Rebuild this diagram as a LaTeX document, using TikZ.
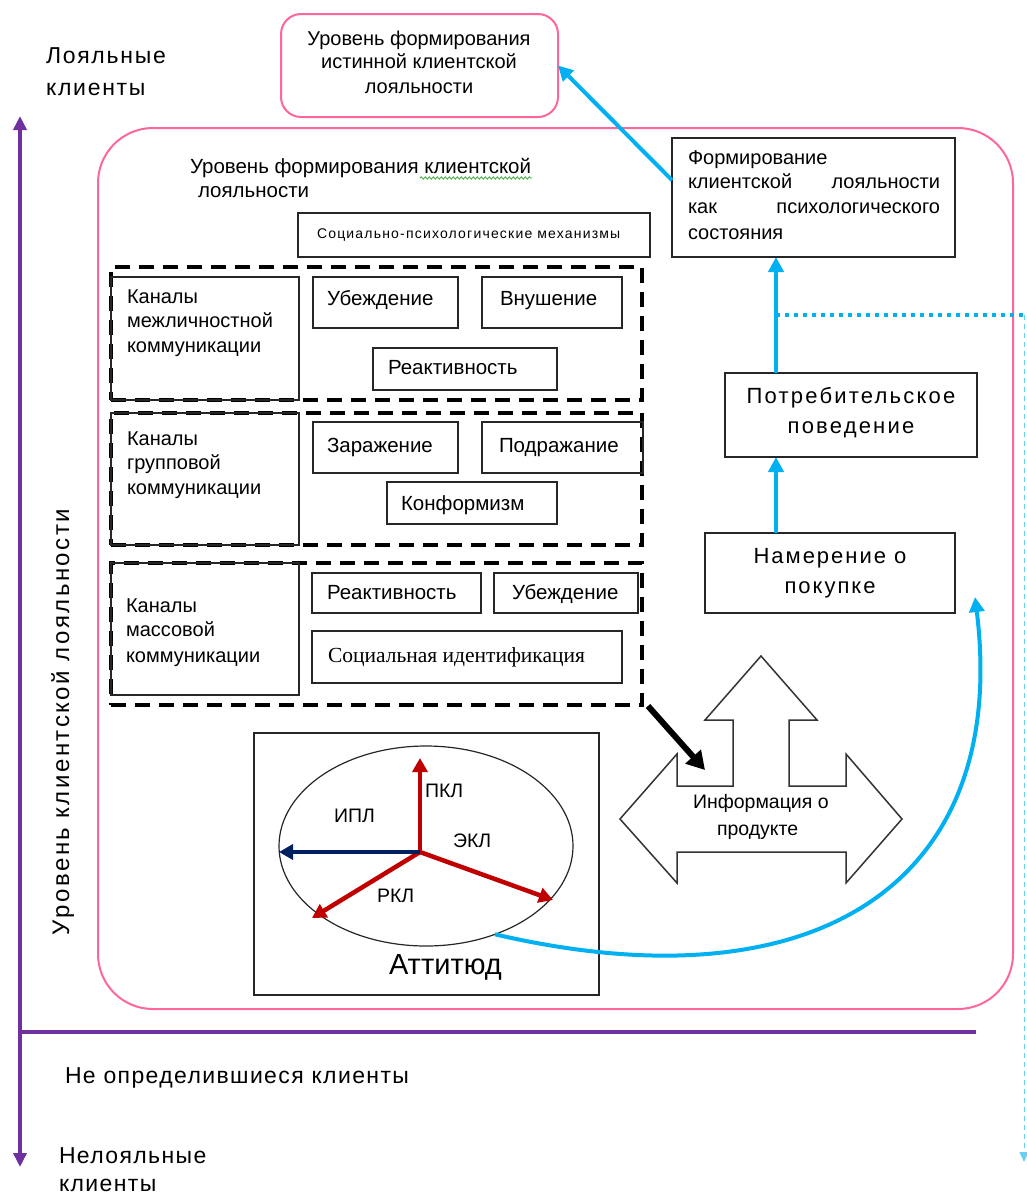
\documentclass[tikz,border=0pt]{standalone}
\usepackage{fontspec}
\setmainfont{Liberation Sans}
\newfontfamily\serifrm{Liberation Serif}
\usetikzlibrary{arrows.meta,decorations.pathmorphing,shapes.geometric}
\definecolor{pinkc}{RGB}{255,102,153}
\definecolor{bluec}{RGB}{0,176,240}
\definecolor{purpc}{RGB}{112,48,160}
\definecolor{redc}{RGB}{192,0,0}
\definecolor{navyc}{RGB}{0,32,96}
\definecolor{greenc}{RGB}{60,170,60}
\newcommand\fsz[1]{\fontsize{#1}{#1}\selectfont}
\newcommand\lsp[1]{\addfontfeature{LetterSpace=#1}}
\begin{document}
\begin{tikzpicture}[x=1pt,y=-1pt,
  every node/.style={inner sep=0pt,outer sep=0pt},
  rbox/.style={draw=black!85,line width=1.6pt,anchor=north west,rectangle},
  pinkbox/.style={draw=pinkc,line width=2pt,anchor=north west,rectangle},
  dbox/.style={draw=black,line width=3.5pt,dash pattern=on 15pt off 9pt,anchor=north west,rectangle},
  txt/.style={anchor=base west},
  ctxt/.style={anchor=base},
  blu/.style={draw=bluec,line width=4pt,-{Triangle[length=15pt,width=15pt]}},
  redar/.style={draw=redc,line width=4.5pt,-{Triangle[length=14pt,width=15pt]}},
  purp/.style={draw=purpc,line width=4pt}
]
\useasboundingbox (0,0) rectangle (1027,1195);

% axes
\coordinate (axTop) at (20,116);
\coordinate (axBot) at (20,1167);
\coordinate (hL) at (20,1032);
\coordinate (hR) at (976,1032);
\draw[purp,{Triangle[length=14pt,width=13pt]}-{Triangle[length=14pt,width=13pt]}] (axTop) -- (axBot);
\draw[purp] (hL) -- (hR);

\node[txt,font=\fsz{23}\lsp{7.5}] (loy1) at (46,63) {Лояльные};
\node[txt,font=\fsz{23}\lsp{7.5}] (loy2) at (46,95) {клиенты};
\node[anchor=base,rotate=90,font=\fsz{24}\lsp{10.5}] (vaxis) at (69,722) {Уровень клиентской лояльности};
\node[txt,font=\fsz{23}\lsp{6}] (undec) at (65,1083) {Не определившиеся клиенты};
\node[txt,font=\fsz{23}\lsp{6}] (dis1) at (59,1163) {Нелояльные};
\node[txt,font=\fsz{23}\lsp{6}] (dis2) at (59,1191) {клиенты};

% pink boxes
\node[pinkbox,rounded corners=20pt,minimum width=277pt,minimum height=103pt] (tp) at (281,14) {};
\node[ctxt,font=\fsz{20}] (tp1) at (419,45) {Уровень формирования};
\node[ctxt,font=\fsz{20}] (tp2) at (419,68) {истинной клиентской};
\node[ctxt,font=\fsz{20}] (tp3) at (419,93) {лояльности};

\node[pinkbox,rounded corners=55pt,minimum width=915pt,minimum height=881pt] (big) at (98,128) {};
\node[txt,font=\fsz{20.5}] (bg1) at (190,173) {Уровень формирования клиентской};
\node[txt,font=\fsz{20.5}] (bg2) at (198,197) {лояльности};
\draw[greenc,line width=0.8pt,decorate,decoration={snake,amplitude=1.2pt,segment length=4pt}] (420,178) -- (532,178);

% mechanisms header
\node[rbox,minimum width=352pt,minimum height=44pt] (mech) at (298,213) {};
\node[txt,font=\fsz{14}\lsp{8.5}] (mecht) at (317,238) {Социально-психологические механизмы};

% dashed groups
\node[dbox,minimum width=531pt,minimum height=133pt] (dash1) at (111,267) {};
\node[dbox,minimum width=531pt,minimum height=132pt] (dash2) at (111,413) {};
\node[dbox,minimum width=531pt,minimum height=142pt] (dash3) at (111,563) {};

% channel boxes
\node[rbox,minimum width=188pt,minimum height=123pt] (ch1) at (111,277) {};
\node[txt,font=\fsz{20}] (ch1a) at (127,303) {Каналы};
\node[txt,font=\fsz{20}] (ch1b) at (127,327) {межличностной};
\node[txt,font=\fsz{20}] (ch1c) at (127,352) {коммуникации};

\node[rbox,minimum width=188pt,minimum height=132pt] (ch2) at (111,413) {};
\node[txt,font=\fsz{20}] (ch2a) at (127,445) {Каналы};
\node[txt,font=\fsz{20}] (ch2b) at (127,469) {групповой};
\node[txt,font=\fsz{20}] (ch2c) at (127,494) {коммуникации};

\node[rbox,minimum width=188pt,minimum height=132pt] (ch3) at (111,563) {};
\node[txt,font=\fsz{20}] (ch3a) at (126,612) {Каналы};
\node[txt,font=\fsz{20}] (ch3b) at (126,636) {массовой};
\node[txt,font=\fsz{20}] (ch3c) at (126,662) {коммуникации};

% mechanism boxes
\node[rbox,minimum width=145pt,minimum height=51pt] (ub1) at (313,277) {};
\node[txt,font=\fsz{20.5}] (ub1t) at (327,305) {Убеждение};
\node[rbox,minimum width=140pt,minimum height=51pt] (vn) at (482,277) {};
\node[txt,font=\fsz{20.5}] (vnt) at (500,305) {Внушение};
\node[rbox,minimum width=184pt,minimum height=42pt] (re1) at (373,348) {};
\node[txt,font=\fsz{20.5}] (re1t) at (388,374) {Реактивность};

\node[rbox,minimum width=145pt,minimum height=51pt] (za) at (313,422) {};
\node[txt,font=\fsz{20.5}] (zat) at (327,452) {Заражение};
\node[rbox,minimum width=161pt,minimum height=51pt] (po) at (482,422) {};
\node[txt,font=\fsz{20.5}] (pot1) at (499,452) {Подражание};
\node[rbox,minimum width=170pt,minimum height=42pt] (ko) at (387,482) {};
\node[txt,font=\fsz{20.5}] (kot) at (401,510) {Конформизм};

\node[rbox,minimum width=169pt,minimum height=40pt] (re2) at (312,573) {};
\node[txt,font=\fsz{20.5}] (re2t) at (327,599) {Реактивность};
\node[rbox,minimum width=144pt,minimum height=40pt] (ub2) at (494,573) {};
\node[txt,font=\fsz{20.5}] (ub2t) at (512,599) {Убеждение};
\node[rbox,minimum width=310pt,minimum height=52pt] (si) at (312,631) {};
\node[txt,font=\serifrm\fsz{21.5}] (sit) at (328,662) {Социальная идентификация};

% right column
\node[rbox,minimum width=283pt,minimum height=119pt] (rt) at (672,138) {};
\node[txt,font=\fsz{20}] (rt1) at (688,164) {Формирование};
\node[anchor=base west,font=\fsz{20},text width=252pt,align=left] (rt2) at (688,188) {клиентской\hfill лояльности};
\node[anchor=base west,font=\fsz{20},text width=252pt,align=left] (rt3) at (688,213) {как\hfill психологического};
\node[txt,font=\fsz{20}] (rt4) at (688,239) {состояния};

\node[rbox,minimum width=252pt,minimum height=84pt] (pot) at (725,373) {};
\node[ctxt,font=\fsz{22}\lsp{10}] (pota) at (851,403) {Потребительское};
\node[ctxt,font=\fsz{22}\lsp{10}] (potb) at (851,433) {поведение};

\node[rbox,minimum width=250pt,minimum height=80pt] (nam) at (705,533) {};
\node[ctxt,font=\fsz{22}\lsp{9}] (nama) at (830,563) {Намерение о};
\node[ctxt,font=\fsz{22}\lsp{9}] (namb) at (830,593) {покупке};

% attitude
\node[rbox,minimum width=345pt,minimum height=262pt] (att) at (254,733) {};
\node[draw=black!85,line width=1.2pt,ellipse,minimum width=294pt,minimum height=200pt] (ell) at (426,846) {};
\coordinate (c) at (420,852);
\coordinate (tP) at (420,758);
\coordinate (tI) at (279,852);
\coordinate (tE) at (553,900);
\coordinate (tR) at (312,918);
\draw[redar] (c) -- (tP);
\draw[redar] (c) -- (tE);
\draw[redar] (c) -- (tR);
\draw[draw=navyc,line width=4pt,-{Triangle[length=14pt,width=15pt]}] (c) -- (tI);
\node[txt,font=\fsz{19.5}] (pkl) at (425,797) {ПКЛ};
\node[txt,font=\fsz{19.5}] (ipl) at (334,822) {ИПЛ};
\node[txt,font=\fsz{19.5}] (ekl) at (453,847) {ЭКЛ};
\node[txt,font=\fsz{19.5}] (rkl) at (377,902) {РКЛ};
\node[txt,font=\fsz{29}] (attt) at (389,974) {Аттитюд};

% three-way arrow
\draw[draw=black!80,line width=1.5pt,line join=miter]
  (761,656) -- (817,720) -- (789,720) -- (789,786) -- (846,786) -- (846,754)
  -- (902,819) -- (846,883) -- (846,852) -- (677,852) -- (677,883) -- (620,819)
  -- (677,754) -- (677,786) -- (733,786) -- (733,720) -- (705,720) -- cycle;
\coordinate (info) at (705,770);
\node[txt,font=\fsz{19.5}] (inf1) at (693,808) {Информация о};
\node[txt,font=\fsz{19.5}] (inf2) at (717,835) {продукте};
\draw[draw=black,line width=6pt,-{Triangle[length=18pt,width=20pt]}] ([shift={(6,1)}]dash3.south east) -- (info);

% blue connectors
\draw[blu] (rt.173) -- (tp.east);
\draw[blu] ([xshift=51pt]pot.north west) -- ([xshift=104pt]rt.south west);
\draw[blu] ([xshift=71pt]nam.north west) -- ([xshift=51pt]pot.south west);
\coordinate (d0) at (776,315);
\coordinate (d1) at (1024,315);
\coordinate (d2) at (1024,1162);
\draw[bluec,line width=3.5pt,dash pattern=on 4pt off 5pt] (d0) -- (d1);
\draw[bluec!60,line width=1pt,dash pattern=on 5pt off 4pt,-{Triangle[length=10pt,width=9pt]}] (d1) -- (d2);
\draw[blu] (ell.-52) .. controls (820,1010) and (1010,880) .. ([shift={(20,-16)}]nam.south east);

\end{tikzpicture}
\end{document}
